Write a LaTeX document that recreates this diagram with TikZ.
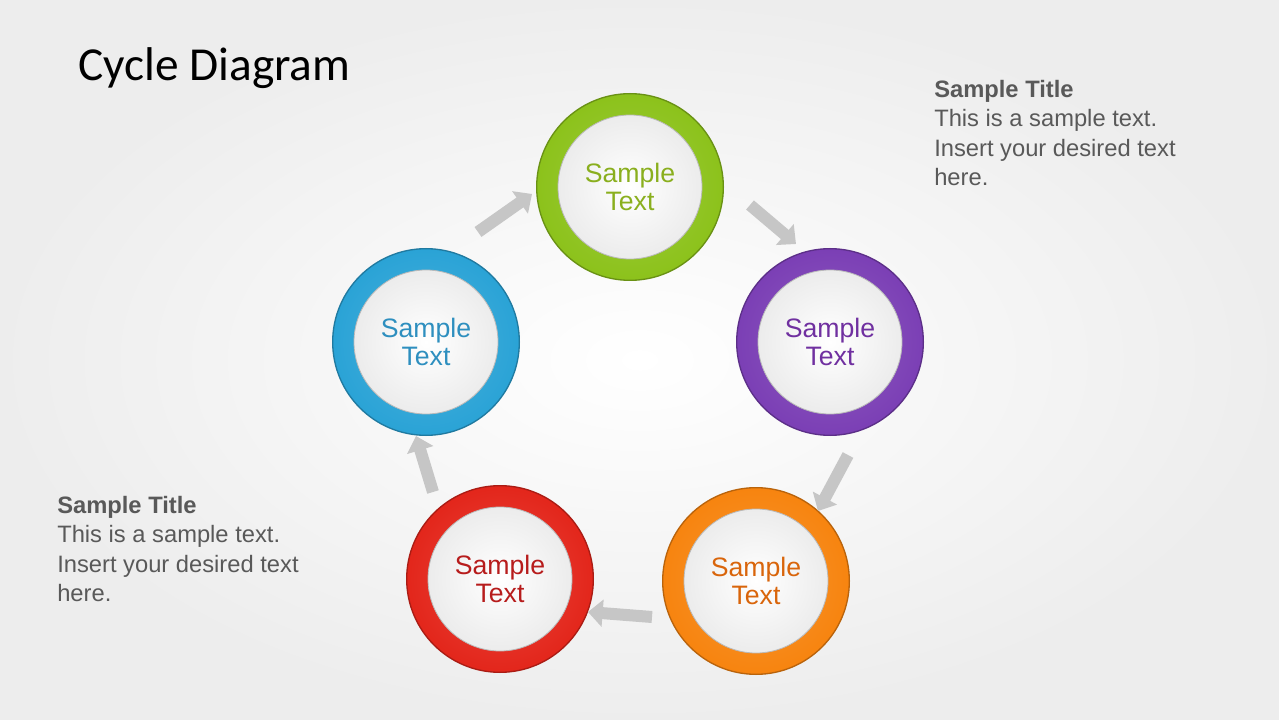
\documentclass[tikz,border=0pt]{standalone}
\usepackage{fontspec}
\setmainfont{Liberation Sans}
\newfontfamily\titlefont{Carlito}
\usetikzlibrary{arrows.meta}
\definecolor{cgreen}{HTML}{8CC21B}
\definecolor{cpurple}{HTML}{7B3FB5}
\definecolor{cblue}{HTML}{2AA3D6}
\definecolor{cred}{HTML}{E3261B}
\definecolor{corange}{HTML}{F7840F}
\definecolor{tgreen}{HTML}{8AAF1E}
\definecolor{tpurple}{HTML}{7030A0}
\definecolor{tblue}{HTML}{2E8FBF}
\definecolor{tred}{HTML}{B71C1C}
\definecolor{torange}{HTML}{D9650B}
\definecolor{bodygray}{HTML}{595959}
\tikzset{
  ring/.style={circle,minimum size=140pt,inner sep=0pt,draw=#1!75!black,line width=1pt,
    inner color=#1!85!white,outer color=#1},
  core/.style={circle,minimum size=108pt,inner sep=0pt,draw=gray!55,line width=0.6pt,
    inner color=white,outer color=gray!15,font=\fontsize{20}{21.5}\selectfont,align=center},
  flow/.style={line width=9pt,draw=gray!45,-{Triangle[length=11pt,width=20pt]}},
  body/.style={anchor=north west,align=left,text=bodygray,font=\fontsize{17.8}{22}\selectfont,inner sep=0pt}
}
\begin{document}
\begin{tikzpicture}[x=0.75pt,y=-0.75pt]
\shade[inner color=white,outer color=gray!14] (0,0) rectangle (1279,720);
\useasboundingbox (0,0) rectangle (1279,720);
\node[anchor=west,inner sep=0pt,font=\titlefont\fontsize{35.5}{38}\selectfont] (title) at (78,68) {Cycle Diagram};
\node[body] (t1) at (934,80) {\textbf{Sample Title}\\This is a sample text.\\Insert your desired text\\here.};
\node[body] (t2) at (57,496) {\textbf{Sample Title}\\This is a sample text.\\Insert your desired text\\here.};
\foreach \n/\x/\y/\c/\t in {g/630/187/cgreen/tgreen, p/830/342/cpurple/tpurple, b/426/342/cblue/tblue, r/500/579/cred/tred, o/756/581/corange/torange}{
  \node[ring=\c] (R\n) at (\x,\y) {};
  \node[core,text=\t] (C\n) at (\x,\y) {Sample\\Text};
}
\coordinate (a1) at (750,205); \coordinate (a2) at (796,244);
\coordinate (b1) at (848,455); \coordinate (b2) at (818,511);
\coordinate (c1) at (652,617); \coordinate (c2) at (588,612);
\coordinate (d1) at (433,492); \coordinate (d2) at (416,436);
\coordinate (e1) at (478,232); \coordinate (e2) at (532,194);
\draw[flow] (a1) -- (a2);
\draw[flow] (b1) -- (b2);
\draw[flow] (c1) -- (c2);
\draw[flow] (d1) -- (d2);
\draw[flow] (e1) -- (e2);
\end{tikzpicture}
\end{document}
